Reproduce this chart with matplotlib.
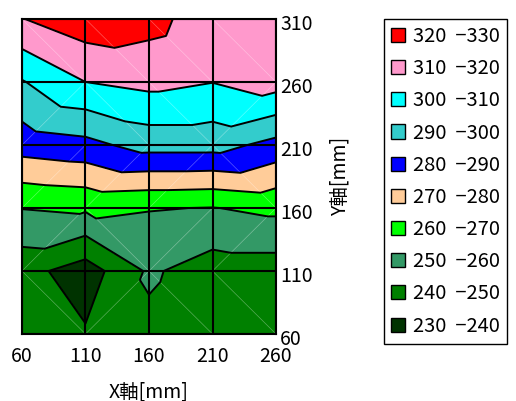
import numpy as np
import matplotlib
matplotlib.use('Agg')
import matplotlib.pyplot as plt
import matplotlib.tri as mtri
import matplotlib.transforms as mtransforms
from matplotlib.patches import Patch

plt.rcParams['font.family'] = ['Noto Sans CJK JP', 'DejaVu Sans']

# grid coordinates (mm)
x_vals = [60, 110, 160, 210, 260]
y_vals = [60, 110, 160, 210, 260, 310]

# values at grid nodes, one list per y row (bottom to top)
row_y60 = [245.0, 241.0, 247.5, 243.0, 244.0]
row_y110 = [243.6, 235.0, 251.5, 245.0, 245.0]
row_y160 = [260.3, 261.7, 260.5, 259.7, 262.3]
row_y210 = [284.5, 287.0, 294.0, 294.0, 286.7]
row_y260 = [299.3, 310.0, 312.9, 310.2, 314.5]
row_y310 = [319.7, 326.0, 323.6, 314.0, 317.0]

levels = [230, 240, 250, 260, 270, 280, 290, 300, 310, 320, 330]
band_colors = ['#003300', '#008000', '#339966', '#00FF00', '#FFCC99',
               '#0000FF', '#33CCCC', '#00FFFF', '#FF99CC', '#FF0000']
band_labels = ['230  −240', '240  −250', '250  −260', '260  −270', '270  −280',
               '280  −290', '290  −300', '300  −310', '310  −320', '320  −330']

Z = np.array([row_y60, row_y110, row_y160, row_y210, row_y260, row_y310])
X, Y = np.meshgrid(x_vals, y_vals)
xf, yf, zf = X.ravel().astype(float), Y.ravel().astype(float), Z.ravel()
nx, ny = len(x_vals), len(y_vals)

# split each cell along the diagonal whose corners have the larger sum
triangles = []
for j in range(ny - 1):
    for i in range(nx - 1):
        bl = j * nx + i
        br = bl + 1
        tl = bl + nx
        tr = tl + 1
        if zf[bl] + zf[tr] >= zf[tl] + zf[br]:
            triangles += [[bl, br, tr], [bl, tr, tl]]
        else:
            triangles += [[bl, br, tl], [br, tr, tl]]
tri = mtri.Triangulation(xf, yf, triangles)

W, H = 516, 401
fig = plt.figure(figsize=(W / 100, H / 100), dpi=100)
ax = fig.add_axes([22 / W, 1 - 334 / H, 254 / W, 315 / H])

ax.tricontourf(tri, zf, levels=levels, colors=band_colors, zorder=1)
ax.triplot(tri, color='white', alpha=0.35, lw=0.5, zorder=2)
ax.tricontour(tri, zf, levels=levels, colors='black', linewidths=1.4, zorder=3)

ax.set_xlim(min(x_vals), max(x_vals))
ax.set_ylim(min(y_vals), max(y_vals))
ax.set_xticks(x_vals)
ax.set_yticks(y_vals)
ax.set_axisbelow(False)
ax.grid(True, color='black', lw=1.5, zorder=4)
for sp in ax.spines.values():
    sp.set_linewidth(1.5)
    sp.set_zorder(5)

ax.yaxis.tick_right()
ax.tick_params(length=0, labelsize=14)
ax.tick_params(axis='x', pad=8.5)
ax.tick_params(axis='y', pad=3)
shift_down = mtransforms.ScaledTranslation(0, -2.5 / 72, fig.dpi_scale_trans)
for lab in ax.get_yticklabels():
    lab.set_transform(lab.get_transform() + shift_down)

ax.set_xlabel('X軸[mm]', fontsize=14)
ax.xaxis.set_label_coords(0.5, -0.184)
ax.xaxis.label.set_va('center')
ax.yaxis.set_label_position('right')
ax.set_ylabel('Y軸[mm]', fontsize=14, rotation=90)
ax.yaxis.set_label_coords((340 - 22) / 254, 0.5)
ax.yaxis.label.set_va('center')
ax.yaxis.label.set_ha('center')

handles = [Patch(facecolor=c, edgecolor='black', lw=1.0) for c in band_colors[::-1]]
leg = fig.legend(handles, band_labels[::-1], loc='upper left',
                 bbox_to_anchor=(384 / W, 1 - 19 / H), fontsize=14.5,
                 frameon=True, fancybox=False, edgecolor='black', framealpha=1,
                 borderaxespad=0, handlelength=0.7, handleheight=0.7,
                 handletextpad=0.4, labelspacing=0.555, borderpad=0.35)
leg.get_frame().set_linewidth(1.0)

fig.savefig('out.png', dpi=100)
